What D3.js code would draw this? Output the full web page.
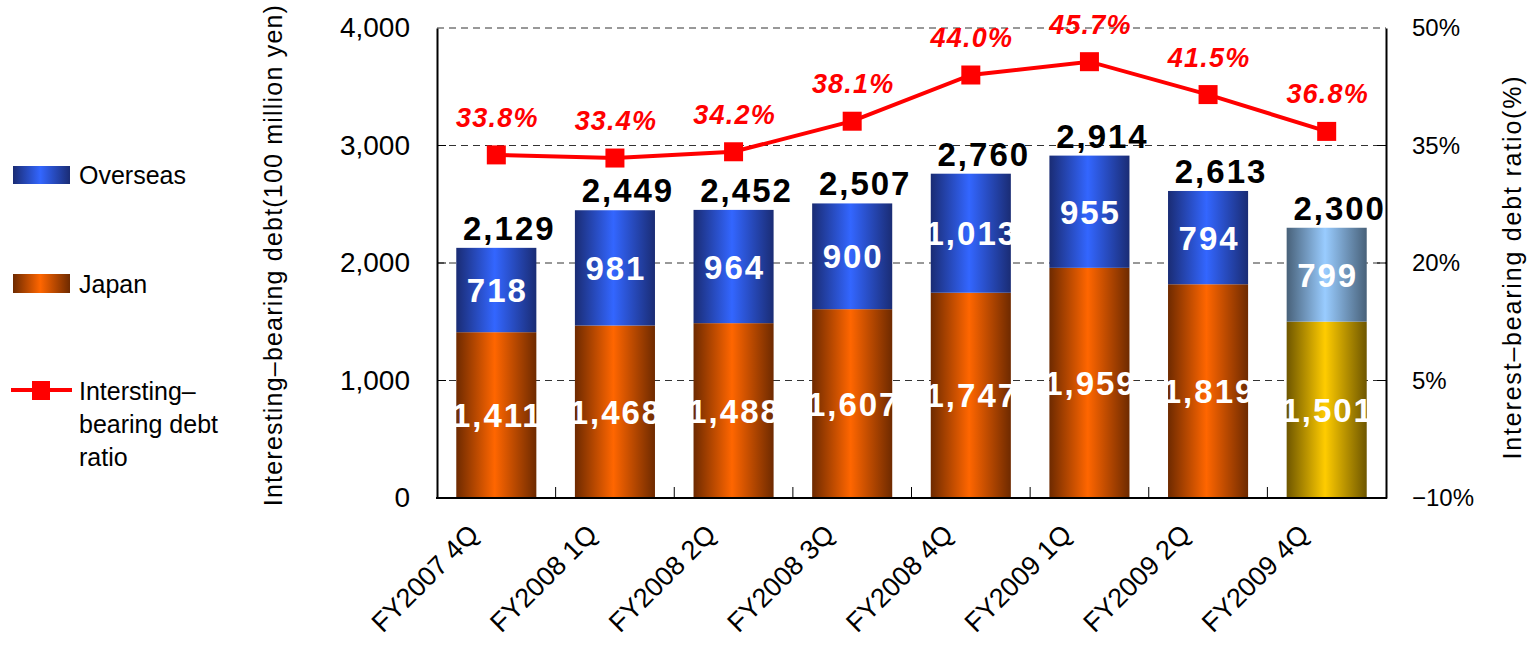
<!DOCTYPE html>
<html>
<head>
<meta charset="utf-8">
<script src="https://cdn.jsdelivr.net/npm/d3@7"></script>
<style>
  html, body { margin: 0; padding: 0; background: #fff; }
  svg { display: block; font-family: "Liberation Sans", Arial, sans-serif; }
</style>
</head>
<body>
<svg id="chart" width="1534" height="647"></svg>
<script>
const categories = ["FY2007 4Q", "FY2008 1Q", "FY2008 2Q", "FY2008 3Q", "FY2008 4Q", "FY2009 1Q", "FY2009 2Q", "FY2009 4Q"];
const japan = [1411, 1468, 1488, 1607, 1747, 1959, 1819, 1501];
const overseas = [718, 981, 964, 900, 1013, 955, 794, 799];
const totals = [2129, 2449, 2452, 2507, 2760, 2914, 2613, 2300];
const ratio = [33.8, 33.4, 34.2, 38.1, 44.0, 45.7, 41.5, 36.8];
const leftTicks = [0, 1000, 2000, 3000, 4000];
const rightTicks = [-10, 5, 20, 35, 50];

const svg = d3.select("#chart");
const L = 437, R = 1386, T = 28, B = 498;

const x = d3.scaleBand().domain(categories).range([L, R]).paddingInner(0.325).paddingOuter(0.1625);
const y = d3.scaleLinear().domain([0, 4000]).range([B, T]);
const y2 = d3.scaleLinear().domain([-10, 50]).range([B, T]);
const step = x.step();

// gradients
const defs = svg.append("defs");
function grad(id, edge, center) {
  const g = defs.append("linearGradient").attr("id", id).attr("x1", "0%").attr("x2", "100%").attr("y1", "0%").attr("y2", "0%");
  g.append("stop").attr("offset", "0%").attr("stop-color", edge);
  g.append("stop").attr("offset", "48%").attr("stop-color", center);
  g.append("stop").attr("offset", "100%").attr("stop-color", edge);
}
grad("gJapan", "#6e2a00", "#ff6600");
grad("gOver", "#1a2c74", "#3366ff");
grad("gJapanF", "#6e5600", "#ffcc00");
grad("gOverF", "#486179", "#99ccff");

// gridlines
svg.append("g").selectAll("line").data(leftTicks.filter(d => d > 0)).join("line")
  .attr("x1", L).attr("x2", R).attr("y1", d => y(d)).attr("y2", d => y(d))
  .attr("stroke", "#333").attr("stroke-width", 1).attr("stroke-dasharray", "7,5");

// bars
const isLast = i => i === categories.length - 1;
const bars = svg.append("g");
categories.forEach((c, i) => {
  bars.append("rect").attr("x", x(c)).attr("width", x.bandwidth())
    .attr("y", y(japan[i])).attr("height", y(0) - y(japan[i]))
    .attr("fill", isLast(i) ? "url(#gJapanF)" : "url(#gJapan)");
  bars.append("rect").attr("x", x(c)).attr("width", x.bandwidth())
    .attr("y", y(japan[i] + overseas[i])).attr("height", y(japan[i]) - y(japan[i] + overseas[i]))
    .attr("fill", isLast(i) ? "url(#gOverF)" : "url(#gOver)");
});

// axes (left, right, bottom)
const axesG = svg.append("g");
const yAxis = d3.axisLeft(y).tickValues(leftTicks).tickFormat(d3.format(",")).tickSize(0).tickPadding(27);
const gl = axesG.append("g").attr("transform", `translate(${L},0)`).call(yAxis);
gl.select(".domain").attr("stroke", "#000").attr("stroke-width", 2);
gl.selectAll("text").attr("font-size", 28).attr("fill", "#000").attr("font-family", "Liberation Sans, Arial, sans-serif");

const y2Axis = d3.axisRight(y2).tickValues(rightTicks).tickFormat(d => d + "%").tickSize(0).tickPadding(26);
const gr = axesG.append("g").attr("transform", `translate(${R},0)`).call(y2Axis);
gr.select(".domain").attr("stroke", "#000").attr("stroke-width", 2);
gr.selectAll("text").attr("font-size", 24).attr("fill", "#000").attr("font-family", "Liberation Sans, Arial, sans-serif")
  .text(d => (d < 0 ? "\u2212" + Math.abs(d) : d) + "%");

// inward tick marks
axesG.selectAll("line.lt").data(leftTicks.slice(1, 4)).join("line").attr("class", "lt")
  .attr("x1", L).attr("x2", L + 9).attr("y1", d => y(d)).attr("y2", d => y(d)).attr("stroke", "#000").attr("stroke-width", 1);
axesG.selectAll("line.rt").data(rightTicks.slice(1, 4)).join("line").attr("class", "rt")
  .attr("x1", R - 9).attr("x2", R).attr("y1", d => y2(d)).attr("y2", d => y2(d)).attr("stroke", "#000").attr("stroke-width", 1);

const boundaries = d3.range(1, categories.length).map(i => L + i * step);
axesG.selectAll("line.bt").data(boundaries).join("line").attr("class", "bt")
  .attr("x1", d => d).attr("x2", d => d).attr("y1", B).attr("y2", B - 11).attr("stroke", "#000").attr("stroke-width", 1);
axesG.append("line").attr("x1", L - 1).attr("x2", R + 1).attr("y1", B).attr("y2", B).attr("stroke", "#000").attr("stroke-width", 2);

// x labels
svg.append("g").selectAll("text").data(categories).join("text")
  .attr("transform", d => `translate(${x(d) + x.bandwidth() / 2 - 16},${B + 38}) rotate(-45)`)
  .attr("text-anchor", "end").attr("font-size", 27).attr("fill", "#000")
  .text(d => d);

// segment labels (white)
const fmt = d3.format(",");
const segG = svg.append("g").attr("font-weight", "bold").attr("font-size", 33).attr("fill", "#fff")
  .attr("text-anchor", "middle").attr("letter-spacing", 2);
categories.forEach((c, i) => {
  const cx = x(c) + x.bandwidth() / 2 + 1;
  segG.append("text").attr("x", cx).attr("y", y(japan[i] / 2) + 12).text(fmt(japan[i]));
  segG.append("text").attr("x", cx).attr("y", y(japan[i] + overseas[i] / 2) + 12).text(fmt(overseas[i]));
});

// total labels
svg.append("g").attr("font-weight", "bold").attr("font-size", 33).attr("fill", "#000")
  .attr("text-anchor", "middle").attr("letter-spacing", 2)
  .selectAll("text").data(categories).join("text")
  .attr("x", (c) => x(c) + x.bandwidth() / 2 + 13)
  .attr("y", (c, i) => y(totals[i]) - 8)
  .text((c, i) => fmt(totals[i]));

// ratio line
const pts = categories.map((c, i) => [x(c) + x.bandwidth() / 2, y2(ratio[i])]);
svg.append("path").attr("d", d3.line()(pts)).attr("fill", "none").attr("stroke", "#ff0000").attr("stroke-width", 4);
svg.append("g").selectAll("rect").data(pts).join("rect")
  .attr("x", d => d[0] - 9.5).attr("y", d => d[1] - 9.5).attr("width", 19).attr("height", 19).attr("fill", "#ff0000");
svg.append("g").attr("font-weight", "bold").attr("font-style", "italic").attr("font-size", 27).attr("fill", "#ff0000")
  .attr("text-anchor", "middle").attr("letter-spacing", 1.2)
  .selectAll("text").data(pts).join("text")
  .attr("x", d => d[0] + 1).attr("y", d => d[1] - 28)
  .text((d, i) => ratio[i].toFixed(1) + "%");

// axis titles
svg.append("text").attr("transform", "translate(282,255) rotate(-90)").attr("text-anchor", "middle")
  .attr("font-size", 25).attr("letter-spacing", 1.2).attr("fill", "#000")
  .text("Interesting\u2013bearing debt(100 million yen)");
svg.append("text").attr("transform", "translate(1521,267) rotate(-90)").attr("text-anchor", "middle")
  .attr("font-size", 25).attr("letter-spacing", 1.8).attr("fill", "#000")
  .text("Interest\u2013bearing debt ratio(%)");

// legend
const lg = svg.append("g").attr("font-size", 25).attr("fill", "#000");
lg.append("rect").attr("x", 13).attr("y", 166).attr("width", 57).attr("height", 18).attr("fill", "url(#gOver)");
lg.append("text").attr("x", 79).attr("y", 184).text("Overseas");
lg.append("rect").attr("x", 13).attr("y", 274).attr("width", 57).attr("height", 19).attr("fill", "url(#gJapan)");
lg.append("text").attr("x", 79).attr("y", 293).text("Japan");
lg.append("line").attr("x1", 11).attr("x2", 72).attr("y1", 390).attr("y2", 390).attr("stroke", "#ff0000").attr("stroke-width", 4);
lg.append("rect").attr("x", 32).attr("y", 381).attr("width", 18).attr("height", 19).attr("fill", "#ff0000");
const lt = lg.append("text").attr("x", 79).attr("y", 400);
["Intersting\u2013", "bearing debt", "ratio"].forEach((s, i) => {
  lt.append("tspan").attr("x", 79).attr("dy", i === 0 ? 0 : 33).text(s);
});
</script>
</body>
</html>
